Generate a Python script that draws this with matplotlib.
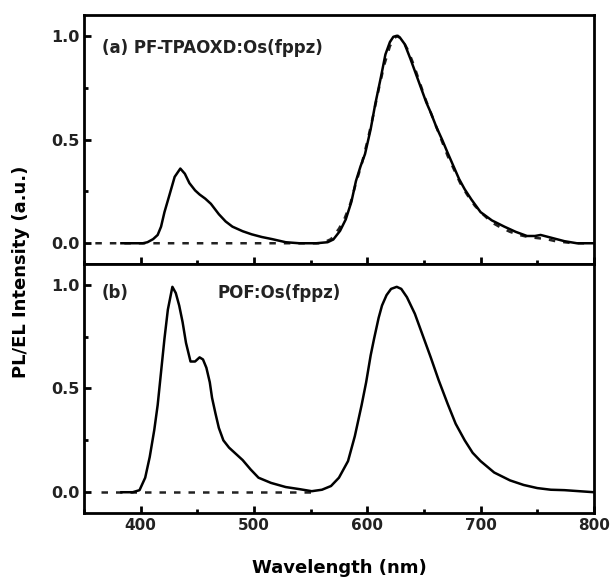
import matplotlib
matplotlib.use("Agg")
import matplotlib.pyplot as plt
from matplotlib.ticker import MultipleLocator

# -------------------------
# DATA
# -------------------------
# (a) PF-TPAOXD:Os(fppz) - solid (EL)
a_el_wl = [383, 395, 402, 406, 411, 415, 418, 421, 425, 430, 435, 439, 443,
           448, 452, 457, 462, 469, 475, 481, 490, 498, 507, 516, 528, 540,
           555, 565, 570, 576, 581, 586, 590, 594, 598, 603, 607, 612, 616,
           620, 623, 626, 629, 633, 638, 642, 648, 652, 656, 661, 666, 671,
           677, 681, 686, 692, 700, 710, 721, 731, 741, 748, 753, 760, 767,
           774, 785, 800]
a_el_val = [0.0, 0.0, 0.0, 0.005, 0.02, 0.04, 0.08, 0.15, 0.225, 0.32, 0.36,
            0.335, 0.29, 0.255, 0.235, 0.215, 0.19, 0.14, 0.105, 0.08, 0.058,
            0.043, 0.03, 0.02, 0.005, 0.0, 0.0, 0.005, 0.018, 0.06, 0.115,
            0.2, 0.3, 0.37, 0.43, 0.55, 0.67, 0.8, 0.91, 0.97, 0.995, 1.0,
            0.99, 0.96, 0.89, 0.83, 0.74, 0.68, 0.63, 0.56, 0.5, 0.435, 0.36,
            0.31, 0.26, 0.21, 0.15, 0.11, 0.08, 0.055, 0.035, 0.035, 0.04,
            0.03, 0.02, 0.01, 0.0, 0.0]

# (a) dashed (PL)
a_pl_wl = [360, 400, 450, 500, 540, 560, 568, 575, 580, 585, 590, 595, 600,
           605, 610, 615, 620, 624, 627, 631, 636, 641, 646, 651, 656, 661,
           666, 671, 677, 682, 688, 695, 702, 710, 718, 726, 734, 742, 750,
           758, 766, 774, 782, 792]
a_pl_val = [0.0, 0.0, 0.0, 0.0, 0.0, 0.0, 0.02, 0.07, 0.12, 0.19, 0.29, 0.38,
            0.49, 0.61, 0.74, 0.86, 0.95, 0.99, 1.0, 0.98, 0.93, 0.86, 0.78,
            0.7, 0.63, 0.56, 0.49, 0.42, 0.35, 0.29, 0.235, 0.18, 0.14, 0.1,
            0.075, 0.055, 0.04, 0.03, 0.025, 0.02, 0.01, 0.005, 0.0, 0.0]

# (b) POF:Os(fppz) - solid (EL)
b_el_wl = [383, 393, 399, 404, 408, 412, 415, 418, 421, 424, 428, 431, 434,
           437, 440, 444, 448, 452, 455, 458, 461, 463, 466, 469, 473, 478,
           484, 490, 497, 504, 515, 528, 540, 551, 560, 568, 575, 583, 589,
           595, 599, 603, 606, 610, 613, 617, 621, 626, 630, 635, 642, 648,
           656, 663, 671, 678, 686, 693, 700, 712, 726, 738, 750, 762, 774,
           787, 800]
b_el_val = [0.0, 0.0, 0.01, 0.07, 0.17, 0.3, 0.42, 0.58, 0.74, 0.88, 0.99,
            0.96, 0.9, 0.82, 0.72, 0.63, 0.63, 0.65, 0.64, 0.6, 0.53, 0.455,
            0.38, 0.31, 0.25, 0.215, 0.185, 0.155, 0.11, 0.07, 0.045, 0.025,
            0.015, 0.005, 0.012, 0.03, 0.07, 0.15, 0.27, 0.42, 0.53, 0.66,
            0.74, 0.84, 0.9, 0.95, 0.98, 0.99, 0.98, 0.94, 0.86, 0.77, 0.65,
            0.54, 0.425, 0.33, 0.25, 0.19, 0.15, 0.095, 0.057, 0.035, 0.02,
            0.012, 0.01, 0.005, 0.0]

# (b) dashed (PL)
b_pl_wl = [365, 400, 450, 500, 555]
b_pl_val = [0.0, 0.0, 0.0, 0.0, 0.0]

x_ticks = [400, 500, 600, 700, 800]
y_ticks = [0.0, 0.5, 1.0]
y_tick_labels = ["0.0", "0.5", "1.0"]

# -------------------------
# PLOT
# -------------------------
plt.rcParams["font.family"] = ["DejaVu Sans"]
plt.rcParams["font.weight"] = "bold"

fig, (ax_a, ax_b) = plt.subplots(2, 1, figsize=(6.11, 5.78), dpi=100, sharex=True)
fig.subplots_adjust(left=0.1375, right=0.972, top=0.974, bottom=0.1125, hspace=0)

dash = (0, (2.6, 3.2))
ax_a.plot(a_pl_wl, a_pl_val, color="#222222", lw=1.8, linestyle=dash)
ax_a.plot(a_el_wl, a_el_val, color="black", lw=1.8)
ax_b.plot(b_pl_wl, b_pl_val, color="#222222", lw=1.8, linestyle=dash)
ax_b.plot(b_el_wl, b_el_val, color="black", lw=1.8)

for ax in (ax_a, ax_b):
    ax.set_xlim(350, 800)
    ax.set_ylim(-0.1, 1.1)
    ax.set_xticks(x_ticks)
    ax.xaxis.set_minor_locator(MultipleLocator(50))
    ax.set_yticks(y_ticks)
    ax.set_yticklabels(y_tick_labels)
    ax.yaxis.set_minor_locator(MultipleLocator(0.25))
    ax.tick_params(which="both", direction="in", width=2, top=False, right=False)
    ax.tick_params(which="major", length=5, labelsize=11.5, colors="black")
    ax.tick_params(which="minor", length=3)
    for s in ax.spines.values():
        s.set_linewidth(2)
    for lab in ax.get_xticklabels() + ax.get_yticklabels():
        lab.set_fontweight("bold")
        lab.set_color("#222222")

ax_a.tick_params(labelbottom=False)
ax_b.tick_params(axis="x", labelsize=11)

ax_a.text(0.035, 0.867, "(a) PF-TPAOXD:Os(fppz)", transform=ax_a.transAxes,
          fontsize=12, fontweight="bold", va="center", ha="left", color="#222222")
ax_b.text(0.035, 0.884, "(b)", transform=ax_b.transAxes,
          fontsize=12, fontweight="bold", va="center", ha="left", color="#222222")
ax_b.text(0.261, 0.884, "POF:Os(fppz)", transform=ax_b.transAxes,
          fontsize=12, fontweight="bold", va="center", ha="left", color="#222222")

ax_b.set_xlabel("Wavelength (nm)", fontsize=13, fontweight="bold", labelpad=19)
fig.text(0.035, 0.53, "PL/EL Intensity (a.u.)", rotation=90, fontsize=13,
         fontweight="bold", ha="center", va="center")

plt.savefig("out.png", dpi=100)
